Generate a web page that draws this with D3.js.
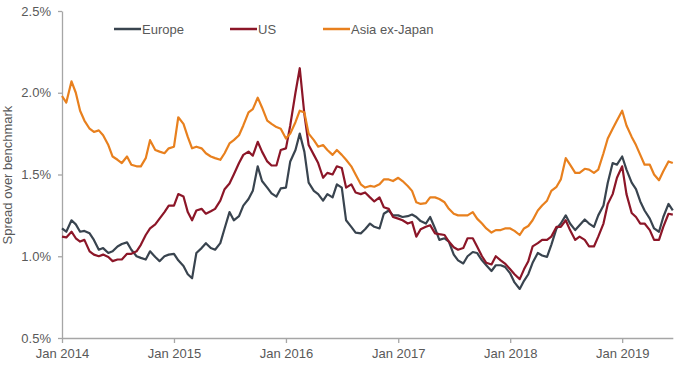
<!DOCTYPE html>
<html>
<head>
<meta charset="utf-8">
<script src="https://cdn.jsdelivr.net/npm/d3@7/dist/d3.min.js"></script>
<style>
  body { margin: 0; background: #fff; }
  text { font-family: "Liberation Sans", Arial, sans-serif; }
</style>
</head>
<body>
<div id="chart"></div>
<script>
// semi-monthly observations, Jan 2014 - Jun 2019
const dates = [
  '2014-01-01','2014-01-15','2014-02-01','2014-02-15','2014-03-01','2014-03-15','2014-04-01','2014-04-15','2014-05-01','2014-05-15','2014-06-01','2014-06-15',
  '2014-07-01','2014-07-15','2014-08-01','2014-08-15','2014-09-01','2014-09-15','2014-10-01','2014-10-15','2014-11-01','2014-11-15','2014-12-01','2014-12-15',
  '2015-01-01','2015-01-15','2015-02-01','2015-02-15','2015-03-01','2015-03-15','2015-04-01','2015-04-15','2015-05-01','2015-05-15','2015-06-01','2015-06-15',
  '2015-07-01','2015-07-15','2015-08-01','2015-08-15','2015-09-01','2015-09-15','2015-10-01','2015-10-15','2015-11-01','2015-11-15','2015-12-01','2015-12-15',
  '2016-01-01','2016-01-15','2016-02-01','2016-02-15','2016-03-01','2016-03-15','2016-04-01','2016-04-15','2016-05-01','2016-05-15','2016-06-01','2016-06-15',
  '2016-07-01','2016-07-15','2016-08-01','2016-08-15','2016-09-01','2016-09-15','2016-10-01','2016-10-15','2016-11-01','2016-11-15','2016-12-01','2016-12-15',
  '2017-01-01','2017-01-15','2017-02-01','2017-02-15','2017-03-01','2017-03-15','2017-04-01','2017-04-15','2017-05-01','2017-05-15','2017-06-01','2017-06-15',
  '2017-07-01','2017-07-15','2017-08-01','2017-08-15','2017-09-01','2017-09-15','2017-10-01','2017-10-15','2017-11-01','2017-11-15','2017-12-01','2017-12-15',
  '2018-01-01','2018-01-15','2018-02-01','2018-02-15','2018-03-01','2018-03-15','2018-04-01','2018-04-15','2018-05-01','2018-05-15','2018-06-01','2018-06-15',
  '2018-07-01','2018-07-15','2018-08-01','2018-08-15','2018-09-01','2018-09-15','2018-10-01','2018-10-15','2018-11-01','2018-11-15','2018-12-01','2018-12-15',
  '2019-01-01','2019-01-15','2019-02-01','2019-02-15','2019-03-01','2019-03-15','2019-04-01','2019-04-15','2019-05-01','2019-05-15','2019-06-01','2019-06-15'
];

const europe = [
  1.17,1.15,1.22,1.195,1.15,1.155,1.14,1.10,1.04,1.05,1.02,1.03,
  1.06,1.075,1.085,1.04,1.00,0.99,0.98,1.03,0.995,0.97,1.00,1.01,
  1.015,0.975,0.94,0.89,0.865,1.02,1.05,1.08,1.05,1.04,1.08,1.17,
  1.27,1.22,1.245,1.31,1.35,1.40,1.55,1.46,1.42,1.385,1.365,1.415,
  1.42,1.58,1.65,1.75,1.64,1.45,1.40,1.38,1.34,1.38,1.36,1.44,
  1.42,1.22,1.18,1.145,1.14,1.165,1.20,1.18,1.17,1.26,1.28,1.25,
  1.25,1.24,1.245,1.255,1.24,1.215,1.20,1.24,1.17,1.10,1.11,1.09,
  1.01,0.975,0.956,1.00,1.026,1.02,0.975,0.945,0.91,0.945,0.945,0.935,
  0.895,0.84,0.80,0.85,0.89,0.96,1.02,1.005,0.996,1.07,1.17,1.20,
  1.25,1.20,1.16,1.19,1.225,1.20,1.18,1.25,1.31,1.45,1.57,1.56,
  1.61,1.53,1.45,1.41,1.335,1.28,1.23,1.17,1.15,1.24,1.32,1.28
];

const us = [
  1.12,1.115,1.15,1.11,1.09,1.10,1.03,1.01,1.00,1.01,0.995,0.97,
  0.98,0.98,1.015,1.015,1.03,1.07,1.13,1.17,1.195,1.23,1.27,1.31,
  1.31,1.38,1.365,1.27,1.22,1.28,1.29,1.26,1.275,1.29,1.34,1.41,
  1.445,1.50,1.57,1.62,1.64,1.615,1.70,1.64,1.58,1.555,1.555,1.65,
  1.66,1.80,2.00,2.15,1.87,1.68,1.62,1.57,1.48,1.51,1.50,1.55,
  1.54,1.42,1.44,1.39,1.38,1.39,1.36,1.335,1.36,1.30,1.29,1.24,
  1.23,1.22,1.20,1.21,1.12,1.165,1.18,1.19,1.14,1.135,1.13,1.09,
  1.055,1.04,1.05,1.11,1.11,1.06,1.00,0.96,0.95,1.00,0.975,0.955,
  0.92,0.89,0.86,0.92,0.97,1.06,1.08,1.10,1.10,1.12,1.18,1.18,
  1.22,1.16,1.10,1.12,1.10,1.06,1.06,1.12,1.20,1.32,1.38,1.48,
  1.55,1.38,1.265,1.24,1.20,1.20,1.16,1.10,1.10,1.18,1.26,1.255
];

const asia = [
  1.98,1.94,2.07,2.00,1.89,1.83,1.78,1.76,1.77,1.74,1.68,1.61,
  1.59,1.57,1.61,1.56,1.55,1.55,1.60,1.71,1.65,1.64,1.63,1.66,
  1.67,1.85,1.81,1.73,1.66,1.67,1.66,1.63,1.61,1.60,1.59,1.63,
  1.69,1.71,1.74,1.80,1.88,1.90,1.97,1.91,1.83,1.81,1.79,1.78,
  1.72,1.75,1.82,1.89,1.88,1.75,1.71,1.67,1.68,1.65,1.62,1.65,
  1.62,1.59,1.55,1.50,1.44,1.42,1.43,1.425,1.44,1.47,1.47,1.46,
  1.48,1.46,1.43,1.40,1.33,1.32,1.325,1.36,1.36,1.35,1.33,1.29,
  1.26,1.25,1.25,1.25,1.27,1.23,1.20,1.17,1.145,1.16,1.16,1.17,
  1.17,1.155,1.13,1.17,1.185,1.22,1.28,1.31,1.34,1.40,1.425,1.47,
  1.60,1.56,1.51,1.51,1.535,1.53,1.51,1.53,1.63,1.72,1.78,1.83,
  1.89,1.80,1.73,1.68,1.62,1.56,1.56,1.50,1.465,1.52,1.58,1.57
];

const seriesNames = ['Europe', 'US', 'Asia ex-Japan'];
const seriesColors = ['#39444f', '#8c1628', '#e8801e'];
const yTicks = [0.5, 1.0, 1.5, 2.0, 2.5];
const xTicks = ['2014-01-01', '2015-01-01', '2016-01-01', '2017-01-01', '2018-01-01', '2019-01-01'];
const xTickLabels = ['Jan 2014', 'Jan 2015', 'Jan 2016', 'Jan 2017', 'Jan 2018', 'Jan 2019'];

const width = 680, height = 366;
const axisColor = '#a6a6a6', textColor = '#595959';

const svg = d3.select('#chart').append('svg')
  .attr('width', width)
  .attr('height', height);

const parse = d3.utcParse('%Y-%m-%d');
const x = d3.scaleUtc()
  .domain([parse('2014-01-01'), parse('2019-06-15')])
  .range([62, 672.8]);
const y = d3.scaleLinear()
  .domain([0.5, 2.5])
  .range([338, 11]);

// y axis
const yAxis = svg.append('g')
  .attr('transform', 'translate(62,0)')
  .call(d3.axisLeft(y).tickValues(yTicks).tickFormat(d => d.toFixed(1) + '%').tickSize(4).tickSizeOuter(0).tickPadding(7));

// x axis
const xAxis = svg.append('g')
  .attr('transform', 'translate(0,338)')
  .call(d3.axisBottom(x).tickValues(xTicks.map(parse)).tickFormat((d, i) => xTickLabels[i]).tickSize(5).tickSizeOuter(0).tickPadding(6));

[yAxis, xAxis].forEach(g => {
  g.select('.domain').attr('stroke', axisColor).attr('stroke-width', 1.3);
  g.selectAll('.tick line').attr('stroke', axisColor).attr('stroke-width', 1.3);
  g.selectAll('.tick text').attr('fill', textColor).style('font-size', '13px');
});

svg.append('text')
  .attr('transform', 'translate(12,175) rotate(-90)')
  .attr('text-anchor', 'middle')
  .attr('fill', textColor)
  .style('font-size', '13px')
  .text('Spread over benchmark');

// lines
const line = d3.line()
  .x((d, i) => x(parse(dates[i])))
  .y(d => y(d));

[europe, us, asia].forEach((values, k) => {
  svg.append('path')
    .datum(values)
    .attr('fill', 'none')
    .attr('stroke', seriesColors[k])
    .attr('stroke-width', 2.2)
    .attr('stroke-linejoin', 'round')
    .attr('d', line);
});

// legend
const legendX = [114, 230, 323];
const legend = svg.append('g');
seriesNames.forEach((name, k) => {
  legend.append('line')
    .attr('x1', legendX[k]).attr('x2', legendX[k] + 27)
    .attr('y1', 29).attr('y2', 29)
    .attr('stroke', seriesColors[k])
    .attr('stroke-width', 2.5);
  legend.append('text')
    .attr('x', legendX[k] + 28)
    .attr('y', 33.5)
    .attr('fill', textColor)
    .style('font-size', '13px')
    .text(name);
});
</script>
</body>
</html>
